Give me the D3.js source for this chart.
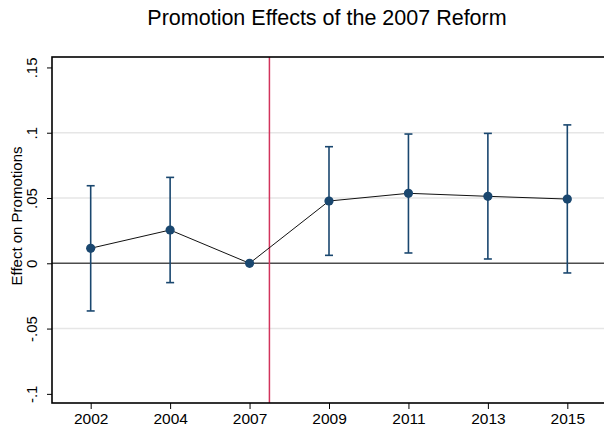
<!DOCTYPE html>
<html>
<head>
<meta charset="utf-8">
<script src="https://cdn.jsdelivr.net/npm/d3@7"></script>
<style>
  body { margin: 0; background: #fff; }
  text { font-family: Arial, "Liberation Sans", Helvetica, sans-serif; fill: #000; }
</style>
</head>
<body>
<div id="chart"></div>
<script>
// Data
const years = ["2002", "2004", "2007", "2009", "2011", "2013", "2015"];
const estimates = [0.0115, 0.0255, 0, 0.0477, 0.0536, 0.0513, 0.0492];
const ciLower = [-0.0365, -0.0148, 0, 0.0061, 0.0079, 0.0033, -0.0074];
const ciUpper = [0.0594, 0.0658, 0, 0.0893, 0.0990, 0.0995, 0.1060];
const yTicks = [-0.1, -0.05, 0, 0.05, 0.1, 0.15];
const yTickLabels = ["-.1", "-.05", "0", ".05", ".1", ".15"];
const gridTicks = [-0.05, 0.05, 0.1];
const reformPosition = 2.25; // vertical line just after 2007

const width = 604, height = 426;
const plot = {left: 52, right: 606, top: 57, bottom: 403};

const svg = d3.select("#chart")
              .append("svg")
              .attr("width", width)
              .attr("height", height);

// Scales: categories are evenly spaced
const x = d3.scaleLinear()
            .domain([-0.487, years.length - 1 + 0.487])
            .range([plot.left, plot.right]);

const y = d3.scaleLinear()
            .domain([-0.107, 0.158])
            .range([plot.bottom, plot.top]);

const navy = "#1a476f";

// Gridlines
svg.append("g")
   .selectAll("line")
   .data(gridTicks)
   .enter()
   .append("line")
   .attr("x1", plot.left)
   .attr("x2", plot.right)
   .attr("y1", d => y(d))
   .attr("y2", d => y(d))
   .attr("stroke", "#e6e6e6")
   .attr("stroke-width", 1.5);

// Zero line
svg.append("line")
   .attr("x1", plot.left)
   .attr("x2", plot.right)
   .attr("y1", y(0))
   .attr("y2", y(0))
   .attr("stroke", "#4d4d4d")
   .attr("stroke-width", 1.5);

// Reform line
svg.append("line")
   .attr("x1", x(reformPosition))
   .attr("x2", x(reformPosition))
   .attr("y1", plot.top)
   .attr("y2", plot.bottom)
   .attr("stroke", "#d2335c")
   .attr("stroke-width", 1.5);

// Axes
const xAxis = svg.append("g")
   .attr("transform", `translate(0,${plot.bottom})`)
   .call(d3.axisBottom(x)
           .tickValues(d3.range(years.length))
           .tickFormat(i => years[i])
           .tickSize(6)
           .tickPadding(4));

const yAxis = svg.append("g")
   .attr("transform", `translate(${plot.left},0)`)
   .call(d3.axisLeft(y)
           .tickValues(yTicks)
           .tickFormat((d, i) => yTickLabels[i])
           .tickSize(5));

[xAxis, yAxis].forEach(g => {
    g.select(".domain").remove();
    g.selectAll(".tick line").attr("stroke", "#000").attr("stroke-width", 1);
});

xAxis.selectAll(".tick text")
     .attr("font-size", 15.5)
     .attr("font-family", "Arial, 'Liberation Sans', sans-serif")
     .attr("fill", "#000");

yAxis.selectAll(".tick text")
     .attr("font-size", 15)
     .attr("font-family", "Arial, 'Liberation Sans', sans-serif")
     .attr("fill", "#000")
     .attr("text-anchor", "middle")
     .attr("dy", 0)
     .attr("x", 0)
     .attr("transform", "translate(-15,0) rotate(-90)");

// Plot frame
svg.append("rect")
   .attr("x", plot.left)
   .attr("y", plot.top)
   .attr("width", plot.right - plot.left)
   .attr("height", plot.bottom - plot.top)
   .attr("fill", "none")
   .attr("stroke", "#000")
   .attr("stroke-width", 1.6);

// Confidence intervals
const ci = svg.append("g")
   .selectAll("g")
   .data(years.map((yr, i) => i).filter(i => ciUpper[i] !== ciLower[i]))
   .enter()
   .append("g")
   .attr("stroke", navy)
   .attr("stroke-width", 1.6);

ci.append("line")
  .attr("x1", i => x(i)).attr("x2", i => x(i))
  .attr("y1", i => y(ciLower[i])).attr("y2", i => y(ciUpper[i]));

ci.append("line")
  .attr("x1", i => x(i) - 4).attr("x2", i => x(i) + 4)
  .attr("y1", i => y(ciLower[i])).attr("y2", i => y(ciLower[i]));

ci.append("line")
  .attr("x1", i => x(i) - 4).attr("x2", i => x(i) + 4)
  .attr("y1", i => y(ciUpper[i])).attr("y2", i => y(ciUpper[i]));

// Connecting line
svg.append("path")
   .datum(estimates)
   .attr("fill", "none")
   .attr("stroke", "#111")
   .attr("stroke-width", 1)
   .attr("d", d3.line().x((d, i) => x(i)).y(d => y(d)));

// Point estimates
svg.selectAll("circle")
   .data(estimates)
   .enter()
   .append("circle")
   .attr("cx", (d, i) => x(i))
   .attr("cy", d => y(d))
   .attr("r", 4.6)
   .attr("fill", navy);

// Title
svg.append("text")
   .attr("x", 327)
   .attr("y", 25.3)
   .attr("text-anchor", "middle")
   .attr("font-size", 21.5)
   .text("Promotion Effects of the 2007 Reform");

// Y axis title
svg.append("text")
   .attr("transform", "translate(21.5,216) rotate(-90)")
   .attr("text-anchor", "middle")
   .attr("font-size", 15)
   .text("Effect on Promotions");
</script>
</body>
</html>
